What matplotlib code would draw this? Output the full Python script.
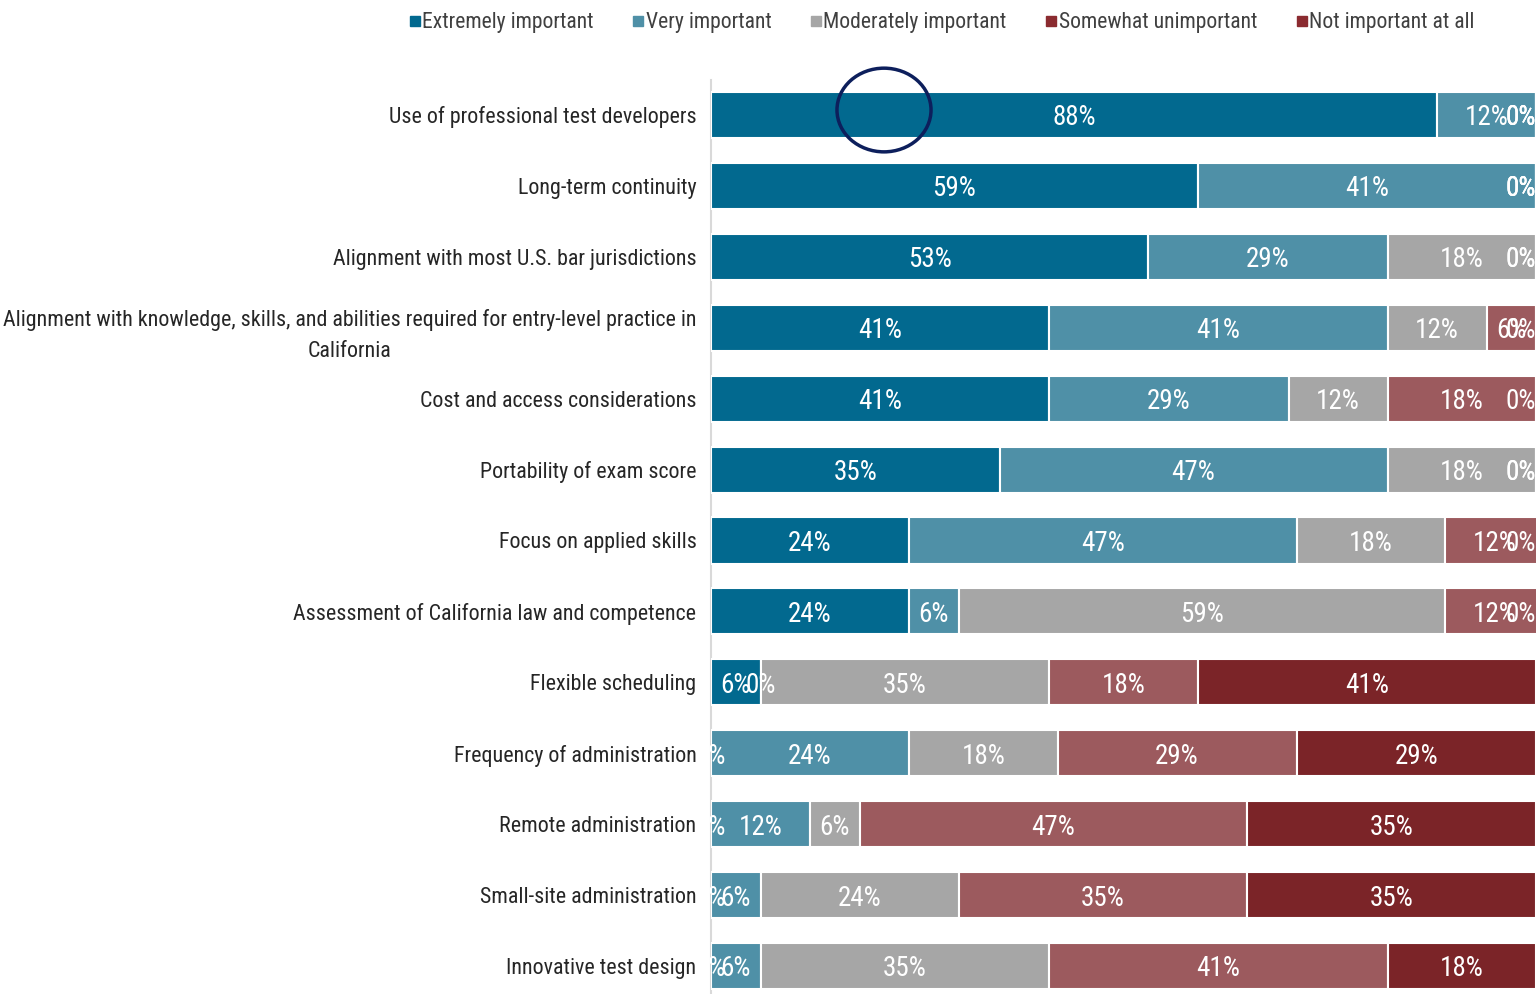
import matplotlib
matplotlib.use("Agg")
import matplotlib.pyplot as plt
from matplotlib.patches import Ellipse
from matplotlib.lines import Line2D
import numpy as np

plt.rcParams['font.family'] = ['Roboto Condensed', 'DejaVu Sans']

categories = [
    "Use of professional test developers",
    "Long-term continuity",
    "Alignment with most U.S. bar jurisdictions",
    "Alignment with knowledge, skills, and abilities required for entry-level practice in\nCalifornia",
    "Cost and access considerations",
    "Portability of exam score",
    "Focus on applied skills",
    "Assessment of California law and competence",
    "Flexible scheduling",
    "Frequency of administration",
    "Remote administration",
    "Small-site administration",
    "Innovative test design",
]

series = ["Extremely important", "Very important", "Moderately important",
          "Somewhat unimportant", "Not important at all"]

extremely = [88, 59, 53, 41, 41, 35, 24, 24, 6, 0, 0, 0, 0]
very = [12, 41, 29, 41, 29, 47, 47, 6, 0, 24, 12, 6, 6]
moderately = [0, 0, 18, 12, 12, 18, 18, 59, 35, 18, 6, 24, 35]
somewhat = [0, 0, 0, 6, 18, 0, 12, 12, 18, 29, 47, 35, 41]
not_at_all = [0, 0, 0, 0, 0, 0, 0, 0, 41, 29, 35, 35, 18]

bar_colors = ["#02698f", "#4f90a7", "#a6a6a6", "#9c5a5e", "#7b2428"]
legend_colors = ["#02698f", "#4f90a7", "#a6a6a6", "#8b2b30", "#8b2b30"]

values = np.array([extremely, very, moderately, somewhat, not_at_all], dtype=float)

fig = plt.figure(figsize=(15.39, 9.94), dpi=100)
ax = fig.add_axes([711 / 1539, -0.0075, 825 / 1539, 0.9275])

y = np.arange(len(categories))
left = np.zeros(len(categories))
for i, name in enumerate(series):
    vals = values[i]
    ax.barh(y, vals, left=left, height=0.65, color=bar_colors[i],
            edgecolor="white", linewidth=1.5, label=name)
    for j, v in enumerate(vals):
        center = left[j] + v / 2
        label = f"{int(v)}%"
        # labels that would run past the right edge are pulled inside it
        if center >= 97.5:
            ax.text(100, y[j], label, ha="right", va="center_baseline",
                    color="white", fontsize=19.5, clip_on=False)
        else:
            ax.text(center, y[j], label, ha="center", va="center_baseline",
                    color="white", fontsize=19.5, clip_on=False)
    left += vals

ax.set_xlim(0, 100)
ax.set_ylim(len(categories) - 0.5, -0.5)
ax.set_yticks(y)
ax.set_yticklabels(categories, fontsize=15.8, color="#262626",
                   multialignment="center", linespacing=1.65)
ax.tick_params(axis="y", length=0, pad=10.5)
ax.set_xticks([])
for side in ["top", "right", "bottom"]:
    ax.spines[side].set_visible(False)
ax.spines["left"].set_color("#d9d9d9")
ax.spines["left"].set_linewidth(1.5)
ax.spines["left"].set_zorder(0)

# circled callout on the first bar
ax.add_patch(Ellipse((20.97, -0.07), 11.4, 1.18, fill=False,
                     edgecolor="#0d1f5c", linewidth=2.5, clip_on=False, zorder=5))

handles = [Line2D([0], [0], marker="s", linestyle="none", markersize=7.5,
                  markerfacecolor=c, markeredgecolor=c) for c in legend_colors]
leg = fig.legend(handles, series, loc="center", bbox_to_anchor=(0.612, 0.977),
                 ncol=5, frameon=False, fontsize=15.6, handletextpad=0.1,
                 columnspacing=1.8, handlelength=0.5)
for t in leg.get_texts():
    t.set_color("#404040")

fig.savefig("out.png", dpi=100)
